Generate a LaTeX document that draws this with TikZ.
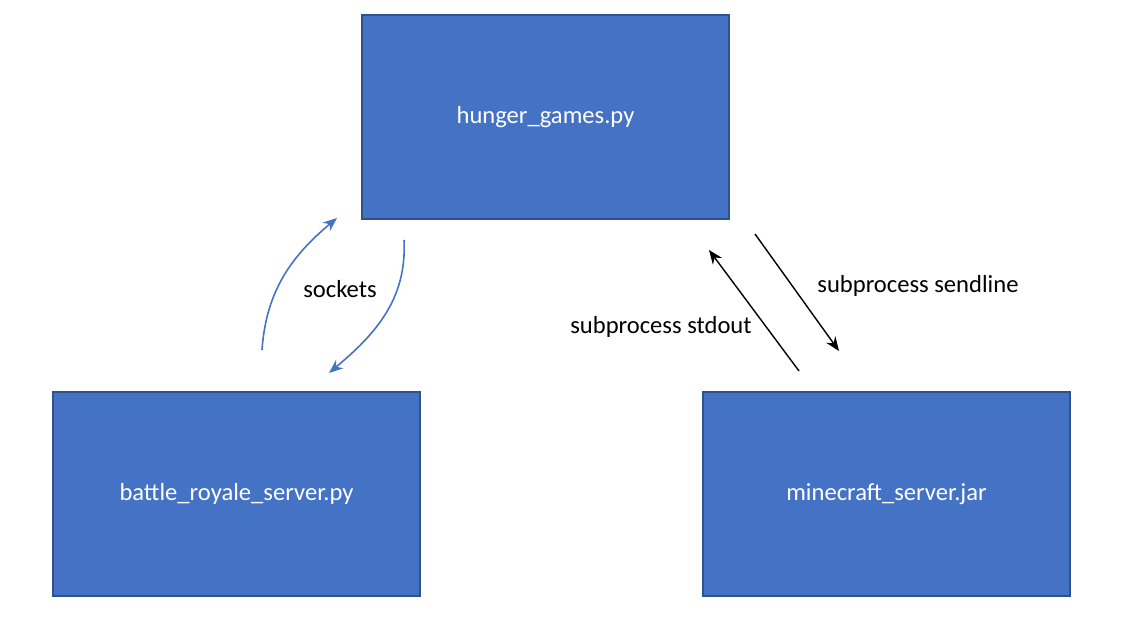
\documentclass[tikz,border=0pt]{standalone}
\usepackage{fontspec}
\setmainfont{Carlito}
\usetikzlibrary{arrows.meta}
\definecolor{boxblue}{HTML}{4472C4}
\definecolor{boxedge}{HTML}{2F528F}
\tikzset{%
  progbox/.style  = {shape=rectangle, draw=boxedge, fill=boxblue,%
                     minimum width=3.67cm, minimum height=2.04cm,%
                     text=white, line width=0.4pt},%
  lbl/.style      = {font=\fontsize{7}{8.4}\selectfont},%
  sock/.style     = {draw=boxblue, line width=0.45pt, -{Stealth[length=4pt,width=3.2pt]}},%
  pipe/.style     = {draw=black, line width=0.4pt, -{Stealth[length=4pt,width=3.2pt]}}%
}

\begin{document}
\begin{tikzpicture}[every node/.style = {font=\fontsize{7}{8.4}\selectfont}]
  \useasboundingbox (0,0) rectangle (11.42,6.36);
  % programs
  \node [progbox] (hunger)  at (5.455,5.19) {hunger\_games.py};
  \node [progbox] (battle)  at (2.365,1.42) {battle\_royale\_server.py};
  \node [progbox] (mcraft)  at (8.865,1.42) {minecraft\_server.jar};
  % arrow ends
  \coordinate (sockA) at (2.62,2.86);
  \coordinate (sockB) at (3.37,4.18);
  \coordinate (sockC) at (4.04,3.96);
  \coordinate (sockD) at (3.29,2.63);
  \coordinate (outA)  at (7.99,2.65);
  \coordinate (outB)  at (7.09,3.86);
  \coordinate (inA)   at (7.55,4.02);
  \coordinate (inB)   at (8.39,2.85);
  % sockets
  \draw [sock] (sockA) to[out=86, in=220] (sockB);
  \draw [sock] (sockC) to[out=-87, in=40] (sockD);
  \node [lbl] (socklbl) at (3.40,3.47) {sockets};
  % subprocess
  \draw [pipe] (outA) -- (outB);
  \draw [pipe] (inA) -- (inB);
  \node [lbl] (sendlbl) at (9.18,3.50) {subprocess sendline};
  \node [lbl] (stdlbl)  at (6.61,3.09) {subprocess stdout};
\end{tikzpicture}
\end{document}
